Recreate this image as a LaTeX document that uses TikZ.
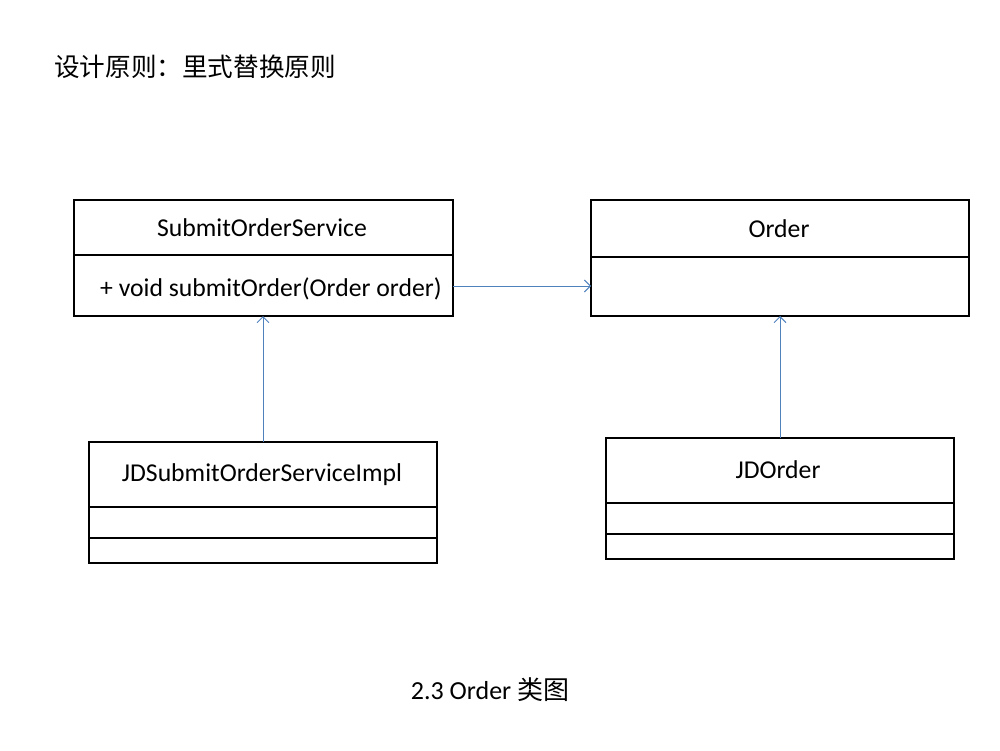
\documentclass[tikz,border=0pt]{standalone}
\usepackage{fontspec}
\setmainfont{Carlito}
\newfontfamily\cjk{Noto Sans CJK SC}
\usetikzlibrary{arrows.meta}
\definecolor{lineblue}{HTML}{4F81BD}
\begin{document}
\begin{tikzpicture}[x=1pt,y=-1pt,
  umlbox/.style={draw=black,line width=2.7pt,fill=none},
  umldiv/.style={draw=black,line width=2.7pt},
  btext/.style={font=\fontsize{25.7}{30}\selectfont,inner sep=0pt},
  conn/.style={draw=lineblue,line width=1pt,-{Straight Barb[length=6pt,width=12pt,line width=1pt]}}]
\useasboundingbox (0,0) rectangle (1000,750);
% title
\node[anchor=west,inner sep=0pt,font=\cjk\fontsize{25.6}{30}\selectfont] (title) at (54,67) {设计原则：里式替换原则};
% SubmitOrderService
\draw[umlbox] (74,200) rectangle (453,316);
\draw[umldiv] (74,255) -- (453,255);
\coordinate (sosTop) at (263,200);
\coordinate (sosBot) at (263,316);
\coordinate (sosRight) at (453,286);
\node[btext] (sos) at (262,228) {SubmitOrderService};
\node[btext,anchor=west] (sosop) at (100,289) {+ void submitOrder(Order order)};
% Order
\draw[umlbox] (591,200) rectangle (969,316);
\draw[umldiv] (591,257) -- (969,257);
\coordinate (ordLeft) at (591,286);
\coordinate (ordBot) at (780,316);
\node[btext] (ord) at (779,229) {Order};
% JDSubmitOrderServiceImpl
\draw[umlbox] (89,442) rectangle (437,563);
\draw[umldiv] (89,507) -- (437,507);
\draw[umldiv] (89,538) -- (437,538);
\coordinate (implTop) at (263,442);
\node[btext] (impl) at (262,475) {JDSubmitOrderServiceImpl};
% JDOrder
\draw[umlbox] (606,438) rectangle (954,559);
\draw[umldiv] (606,503) -- (954,503);
\draw[umldiv] (606,534) -- (954,534);
\coordinate (jdoTop) at (780,438);
\node[btext] (jdo) at (778,470) {JDOrder};
% connectors
\draw[conn] (sosRight) -- (ordLeft);
\draw[conn] (implTop) -- (sosBot);
\draw[conn] (jdoTop) -- (ordBot);
% caption
\node[inner sep=0pt,font=\fontsize{26}{30}\selectfont] (cap) at (490,690) {2.3 Order {\cjk 类图}};
\end{tikzpicture}
\end{document}
